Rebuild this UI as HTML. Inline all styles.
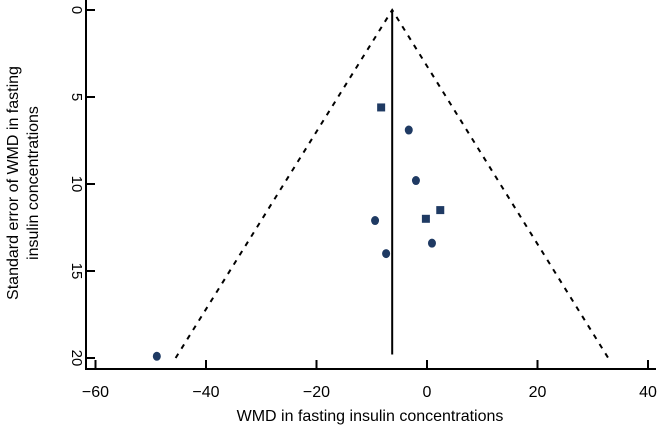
<!DOCTYPE html>
<html><head><meta charset="utf-8"><style>
body{margin:0;background:#fff}
svg{display:block;font-family:"Liberation Sans",sans-serif}
</style></head><body>
<svg id="c" width="658" height="428"></svg>
<script>
const yTicks=[0,5,10,15,20];
const xTicks=[-60,-40,-20,0,20,40];
const xTickLabels=["−60","−40","−20","0","20","40"];
const pooledEffect=-6.3;
const funnelLeftAt20=-45.5;
const funnelRightAt20=32.8;
const squareX=[-8.3,-0.2,2.4];
const squareSE=[5.6,12.0,11.5];
const circleX=[-3.3,-2.0,-9.4,0.9,-7.4,-48.9];
const circleSE=[6.9,9.8,12.1,13.4,14.0,19.9];
const NS="http://www.w3.org/2000/svg";
const svg=document.getElementById('c');
const X=v=>427+(v*110.5/20);
const Y=v=>10+v*17.4;
function mk(t,a,p){const e=document.createElementNS(NS,t);for(const k in a)e.setAttribute(k,a[k]);(p||svg).appendChild(e);return e;}
let g;
g=mk('line',{x1:86,y1:0,x2:86,y2:370,stroke:'#000','stroke-width':2});


g=mk('line',{x1:85,y1:369,x2:656,y2:369,stroke:'#000','stroke-width':2});


yTicks.forEach(v=>{
 const l=mk('line',{x1:86,y1:Y(v),x2:95,y2:Y(v),stroke:'#000','stroke-width':2});
 
 
 const t=mk('text',{x:0,y:0,'font-size':15,'text-anchor':'middle',transform:`translate(72,${Y(v)}) rotate(90)`});
 t.textContent=v;
 
 
});
xTicks.forEach((v,i)=>{
 const l=mk('line',{x1:X(v),y1:369,x2:X(v),y2:360,stroke:'#000','stroke-width':2});
 
 
 const t=mk('text',{x:X(v),y:397,'font-size':16,'text-anchor':'middle'});
 t.textContent=xTickLabels[i];
 
 
});
g=mk('line',{x1:X(pooledEffect),y1:Y(0),x2:X(pooledEffect),y2:Y(19.8),stroke:'#000','stroke-width':2});


g=mk('polyline',{points:`${X(funnelLeftAt20)},${Y(20)} ${X(pooledEffect)},${Y(0)} ${X(funnelRightAt20)},${Y(20)}`,fill:'none',stroke:'#000','stroke-width':2,'stroke-dasharray':'5,6'});


squareX.forEach((v,i)=>{
 const r=mk('rect',{x:X(v)-4,y:Y(squareSE[i])-4,width:8,height:8,fill:'#1f3a63'});
 
 
});
circleX.forEach((v,i)=>{
 const c=mk('ellipse',{cx:X(v),cy:Y(circleSE[i]),rx:4,ry:4.5,fill:'#1f3a63'});
 
 
});
g=mk('text',{x:370,y:421,'font-size':16,'text-anchor':'middle'});
g.textContent='WMD in fasting insulin concentrations';


g=mk('text',{x:0,y:0,'font-size':16,'text-anchor':'middle',transform:'translate(18,183) rotate(-90)'});
g.textContent='Standard error of WMD in fasting';


g=mk('text',{x:0,y:0,'font-size':16,'text-anchor':'middle',transform:'translate(38,183) rotate(-90)'});
g.textContent='insulin concentrations';


</script>
</body></html>
